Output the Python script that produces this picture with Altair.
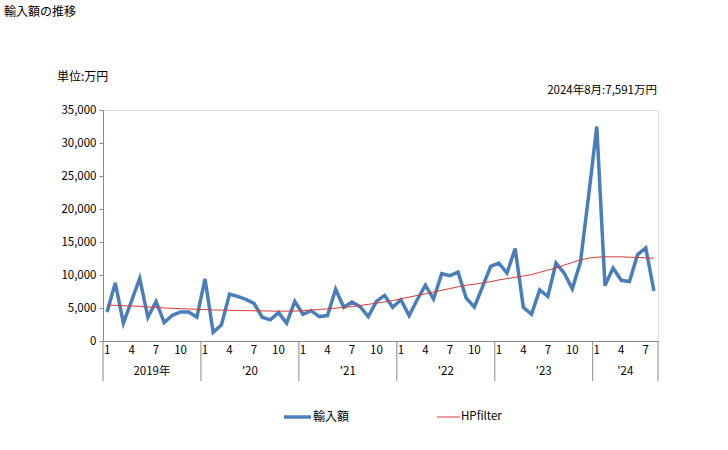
import altair as alt
import pandas as pd

# ---- data ----
values = [
    4400, 8800, 2700, 6100, 9500, 3600, 6000, 2800, 3900, 4400, 4400, 3600,     # 2019
    9400, 1300, 2400, 7100, 6750, 6300, 5700, 3600, 3200, 4300, 2700, 6000,     # 2020
    4050, 4600, 3700, 3850, 7850, 5100, 5900, 5200, 3700, 6000, 6900, 5100,     # 2021
    6250, 3850, 6250, 8450, 6350, 10200, 9900, 10450, 6500, 5150, 8200, 11300,  # 2022
    11800, 10300, 14000, 5100, 4050, 7750, 6750, 11800, 10300, 7900, 11950, 22000,  # 2023
    32500, 8400, 11050, 9200, 9000, 13100, 14100, 7591,                         # 2024
]
hp = [
    5450, 5400, 5350, 5300, 5250, 5150, 5100, 5000, 4950, 4900, 4850, 4800,
    4750, 4700, 4680, 4650, 4620, 4600, 4580, 4560, 4540, 4520, 4520, 4530,
    4600, 4680, 4770, 4870, 4980, 5100, 5230, 5370, 5550, 5730, 5920, 6120,
    6400, 6640, 6900, 7150, 7400, 7680, 7950, 8200, 8450, 8600, 8800, 9000,
    9250, 9450, 9650, 9850, 10050, 10400, 10750, 11050, 11500, 11900, 12300, 12550,
    12700, 12750, 12750, 12750, 12700, 12650, 12600, 12550,
]
y_ticks = [0, 5000, 10000, 15000, 20000, 25000, 30000, 35000]
month_labels = ["1", "4", "7", "10"]
year_labels = ["2019年", "'20", "'21", "'22", "'23", "'24"]
year_starts = [0, 12, 24, 36, 48, 60]
year_ends = [12, 24, 36, 48, 60, 68]

W, H = 555, 231
FONT = "Noto Sans CJK JP"
BLUE = "#4a7ebb"
RED = "#d23b3b"
GRAY = "#888888"
OLIVE = "#8c8a4b"

df = pd.DataFrame({"i": list(range(len(values))), "v": values, "hp": hp})

xs = alt.Scale(domain=[-0.5, 67.5], nice=False, zero=False)
ys = alt.Scale(domain=[0, 35000], nice=False)
xaxis = alt.Axis(labels=False, ticks=False, grid=False, domainColor=GRAY, title=None)
yaxis = alt.Axis(values=y_ticks, format=",.0f", grid=False, tickSize=4, tickColor=GRAY,
                 domainColor=GRAY, labelFontSize=11.5, labelFont=FONT, labelColor="#000000",
                 labelPadding=3, title=None)

base = alt.Chart(df)
line = base.mark_line(color=BLUE, strokeWidth=3.5).encode(
    x=alt.X("i:Q", scale=xs, axis=xaxis),
    y=alt.Y("v:Q", scale=ys, axis=yaxis),
)
hpline = base.mark_line(color=RED, strokeWidth=1).encode(
    x=alt.X("i:Q", scale=xs, axis=xaxis),
    y=alt.Y("hp:Q", scale=ys, axis=yaxis),
)

# month tick labels
mrows = []
for ys_ in year_starts:
    for k, m in enumerate(month_labels):
        idx = ys_ + k * 3
        if idx < len(values):
            mrows.append({"i": idx, "t": m})
mdf = pd.DataFrame(mrows)
mtext = alt.Chart(mdf).mark_text(font=FONT, fontSize=11.5, baseline="middle", align="center",
                                 color="#000000").encode(
    x=alt.X("i:Q", scale=xs, axis=xaxis), y=alt.value(H + 10), text="t:N")

ydf = pd.DataFrame({"c": [(a + b - 1) / 2 for a, b in zip(year_starts, year_ends)],
                    "t": year_labels})
ytext = alt.Chart(ydf).mark_text(font=FONT, fontSize=11.5, baseline="middle", align="center",
                                 color="#000000").encode(
    x=alt.X("c:Q", scale=xs, axis=xaxis), y=alt.value(H + 31), text="t:N")

sdf = pd.DataFrame({"b": [s - 0.5 for s in year_starts] + [year_ends[-1] - 0.5]})
seps = alt.Chart(sdf).mark_rule(color=GRAY, strokeWidth=1).encode(
    x=alt.X("b:Q", scale=xs, axis=xaxis), y=alt.value(H), y2=alt.value(H + 40))

# texts
def label(txt, x, y, align="left", size=11):
    return alt.Chart(pd.DataFrame({"t": [txt]})).mark_text(
        font=FONT, fontSize=size, align=align, baseline="middle", color="#000000"
    ).encode(x=alt.value(x), y=alt.value(y), text="t:N")

title = label("輸入額の推移", -99, -98, size=12)
unit = label("単位:万円", -46, -33, size=12)
latest = label("2024年8月:7,591万円", 554, -19, align="right", size=11.5)

# legend
leg_blue = alt.Chart(pd.DataFrame({"a": [0]})).mark_rule(color=BLUE, strokeWidth=3.5).encode(
    x=alt.value(181), x2=alt.value(208), y=alt.value(307))
leg_red = alt.Chart(pd.DataFrame({"a": [0]})).mark_rule(color=RED, strokeWidth=1).encode(
    x=alt.value(334), x2=alt.value(357), y=alt.value(307))
leg_t1 = label("輸入額", 210, 307, size=12)
leg_t2 = label("HPfilter", 358, 307, size=11.5)

chart = alt.layer(
    line, hpline, seps, mtext, ytext, title, unit, latest, leg_blue, leg_red, leg_t1, leg_t2
).properties(
    width=W, height=H,
    autosize=alt.AutoSizeParams(type="none"),
    padding={"left": 103, "top": 110, "right": 70, "bottom": 109},
).configure_view(
    stroke=OLIVE, strokeWidth=1
).configure(background="white")

chart.save("out.html", embed_options={"renderer": "svg", "actions": False})
